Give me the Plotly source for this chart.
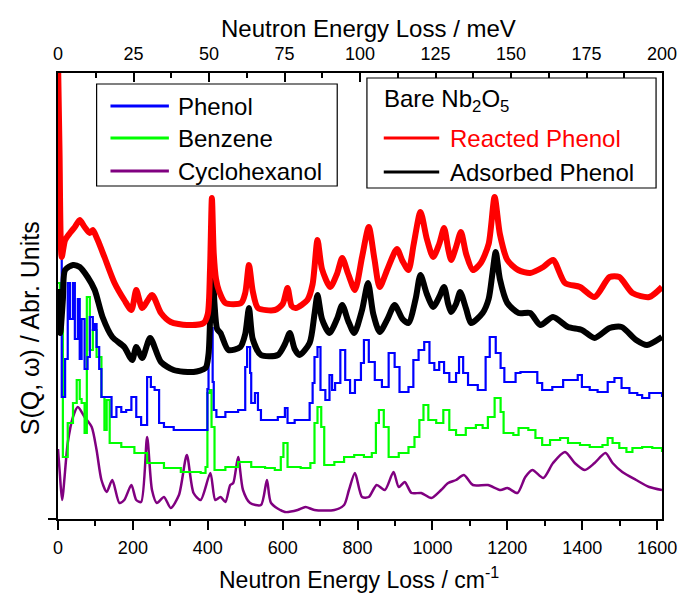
import plotly.graph_objects as go

# ---------------- data (x in cm^-1, y in arbitrary offset units) ----------------
reacted_x = [0, 4, 10, 19, 32, 45, 58, 71, 85, 93, 106, 124, 151, 177, 196, 209, 225, 251, 275, 301,
             344, 389, 400, 406, 411, 416, 422, 430, 447, 489, 500, 510, 520, 534, 579, 600, 613, 624, 635, 666,
             680, 693, 705, 727, 745, 759, 775, 793, 812, 830, 845, 859, 880, 905, 920, 936, 950, 968, 985, 1002,
             1018, 1031, 1042, 1050, 1063, 1076, 1090, 1108, 1129, 1150, 1166, 1180, 1200, 1229, 1261, 1296, 1322, 1354, 1394, 1433,
             1473, 1499, 1534, 1579, 1613]
reacted_y = [460, 369, 262, 279, 286, 292, 299, 292, 286, 289, 279, 262, 236, 219, 209, 229, 211, 224, 206, 197,
             194, 196, 205, 250, 321, 265, 240, 228, 216, 216, 226, 254, 228, 211, 209, 215, 231, 213, 211, 219,
             235, 279, 250, 232, 245, 261, 245, 229, 262, 292, 260, 232, 250, 270, 258, 249, 275, 307, 280, 262,
             275, 291, 270, 259, 272, 287, 265, 249, 256, 275, 322, 285, 259, 249, 246, 252, 259, 236, 232, 222,
             242, 242, 226, 222, 232]

adsorbed_x = [0, 6, 13, 19, 40, 58, 79, 98, 119, 145, 177, 198, 209, 225, 246, 275, 309, 362, 394, 402,
              407, 412, 418, 425, 434, 455, 487, 500, 510, 520, 542, 587, 606, 619, 632, 645, 672, 685, 693, 705,
              725, 745, 759, 775, 791, 812, 828, 842, 859, 880, 899, 920, 936, 955, 968, 985, 1002, 1018, 1031, 1042,
              1050, 1063, 1074, 1090, 1103, 1134, 1150, 1160, 1169, 1180, 1200, 1230, 1261, 1288, 1322, 1362, 1399, 1433, 1473, 1505,
              1544, 1573, 1613]
adsorbed_y = [230, 186, 219, 249, 254, 252, 242, 229, 202, 182, 172, 159, 172, 161, 181, 157, 149, 147, 151, 165,
              210, 259, 215, 190, 186, 169, 172, 185, 211, 180, 164, 164, 175, 186, 170, 164, 176, 205, 224, 200,
              186, 200, 214, 198, 186, 209, 236, 205, 187, 200, 214, 200, 196, 220, 244, 225, 212, 222, 232, 215,
              207, 215, 227, 210, 196, 206, 220, 245, 267, 240, 216, 206, 206, 194, 202, 192, 189, 181, 191, 192,
              179, 174, 182]

phenol_x = [0, 5, 10, 19, 26, 32, 40, 45, 53, 58, 63, 71, 79, 85, 93, 98, 103, 110, 116, 130,
            143, 156, 169, 182, 196, 209, 222, 238, 248, 258, 270, 283, 309, 389, 399, 402, 413, 416, 423, 447,
            481, 500, 505, 513, 516, 526, 534, 542, 587, 606, 613, 632, 658, 672, 680, 685, 693, 701, 714, 725,
            732, 740, 754, 767, 780, 793, 809, 817, 830, 846, 865, 883, 899, 912, 936, 949, 963, 978, 992, 1005,
            1018, 1031, 1045, 1063, 1071, 1082, 1095, 1121, 1142, 1153, 1169, 1182, 1192, 1222, 1235, 1261, 1280, 1293, 1320, 1349,
            1388, 1399, 1420, 1441, 1468, 1486, 1505, 1526, 1547, 1560, 1579, 1600, 1613]
phenol_y = [460, 300, 122, 160, 236, 200, 236, 180, 220, 160, 200, 150, 162, 202, 189, 195, 172, 150, 122, 122,
            102, 112, 107, 109, 122, 102, 94, 142, 132, 129, 96, 92, 89, 89, 130, 191, 137, 109, 102, 107,
            109, 152, 172, 146, 116, 126, 109, 99, 102, 111, 96, 99, 99, 116, 136, 162, 172, 129, 119, 144,
            129, 136, 169, 139, 126, 139, 156, 179, 157, 139, 132, 166, 152, 127, 132, 159, 169, 177, 156, 149,
            157, 146, 137, 146, 162, 146, 134, 129, 162, 182, 166, 151, 137, 146, 147, 147, 136, 129, 132, 139,
            144, 132, 129, 127, 137, 141, 131, 126, 124, 121, 126, 126, 122]

benzene_x = [0, 5, 13, 26, 40, 50, 58, 63, 71, 77, 85, 93, 103, 116, 124, 130, 138, 169, 204, 238,
             283, 328, 381, 394, 399, 405, 410, 418, 447, 481, 516, 553, 579, 595, 602, 613, 648, 674, 685, 693,
             703, 711, 738, 764, 791, 817, 838, 849, 857, 870, 883, 910, 936, 952, 965, 976, 989, 1010, 1029, 1045,
             1063, 1089, 1116, 1134, 1148, 1166, 1182, 1190, 1216, 1230, 1256, 1275, 1293, 1314, 1341, 1362, 1394, 1420, 1454, 1468,
             1481, 1499, 1518, 1534, 1560, 1587, 1613]
benzene_y = [236, 200, 62, 96, 116, 139, 120, 116, 86, 222, 169, 189, 162, 122, 89, 119, 76, 72, 66, 56,
             51, 47, 46, 52, 126, 129, 92, 49, 52, 57, 52, 51, 49, 62, 76, 52, 51, 56, 96, 112,
             92, 54, 57, 62, 64, 62, 66, 96, 109, 92, 62, 66, 72, 82, 99, 114, 99, 96, 109, 89,
             84, 91, 94, 91, 102, 121, 107, 86, 84, 91, 89, 81, 74, 79, 81, 76, 74, 72, 74, 81,
             76, 71, 67, 71, 72, 71, 67]

cyclohexanol_x = [0, 5, 11, 26, 40, 53, 71, 90, 103, 116, 130, 145, 164, 177, 196, 209, 222, 238, 251, 264,
                  283, 301, 323, 344, 362, 381, 407, 420, 434, 447, 460, 468, 481, 494, 513, 542, 558, 569, 606, 640,
                  661, 685, 738, 764, 777, 793, 812, 830, 851, 873, 896, 910, 926, 944, 970, 997, 1023, 1042, 1063, 1084,
                  1108, 1148, 1182, 1200, 1227, 1248, 1267, 1296, 1322, 1354, 1380, 1407, 1433, 1462, 1481, 1507, 1544, 1579, 1613]
cyclohexanol_y = [70, 45, 19, 76, 102, 112, 102, 92, 69, 39, 27, 39, 16, 19, 34, 19, 17, 82, 29, 16,
                  22, 11, 24, 64, 26, 19, 46, 19, 22, 17, 34, 36, 62, 29, 16, 14, 39, 16, 7, 9,
                  12, 9, 9, 14, 29, 46, 22, 22, 34, 29, 47, 32, 37, 26, 26, 21, 29, 36, 39, 44,
                  34, 34, 29, 31, 26, 42, 49, 41, 56, 67, 56, 49, 56, 66, 56, 47, 39, 32, 29]

cm_ticks = [0, 200, 400, 600, 800, 1000, 1200, 1400, 1600]
cm_minor = [100, 300, 500, 700, 900, 1100, 1300, 1500]
mev_ticks = [0, 25, 50, 75, 100, 125, 150, 175, 200]
mev_minor = [12.5, 37.5, 62.5, 87.5, 112.5, 137.5, 162.5, 187.5]

# ---------------- figure ----------------
W, H = 689, 597
ML, MR, MT, MB = 58, 21, 73, 78
PW, PH = W - ML - MR, H - MT - MB
FONT = "Liberation Sans, Arial, sans-serif"


def fx(p):
    return (p - ML) / PW


def fy(p):
    return (H - MB - p) / PH


fig = go.Figure()

series = [
    ("Cyclohexanol", cyclohexanol_x, cyclohexanol_y, "#800080", 2.5, "spline"),
    ("Benzene", benzene_x, benzene_y, "#00FF00", 2.2, "hv"),
    ("Phenol", phenol_x, phenol_y, "#0000FF", 2.2, "hv"),
    ("Adsorbed Phenol", adsorbed_x, adsorbed_y, "#000000", 6, "spline"),
    ("Reacted Phenol", reacted_x, reacted_y, "#FF0000", 6, "spline"),
]
for name, xs, ys, col, w, shp in series:
    line = dict(color=col, width=w, shape=shp)
    if shp == "spline":
        line["smoothing"] = 0.7
    fig.add_trace(go.Scatter(x=xs, y=ys, mode="lines", name=name, line=line,
                             showlegend=False, hoverinfo="skip"))

# carrier for the top (meV) axis
fig.add_trace(go.Scatter(x=[mev_ticks[0], mev_ticks[-1]], y=[None, None], xaxis="x2",
                         mode="lines", showlegend=False, hoverinfo="skip"))

axis_common = dict(showgrid=False, zeroline=False, showline=True, linecolor="black",
                   linewidth=1.5, tickcolor="black", tickwidth=1.5,
                   tickfont=dict(family=FONT, size=18, color="black"))

fig.update_layout(
    width=W, height=H,
    margin=dict(l=ML, r=MR, t=MT, b=MB, pad=0),
    paper_bgcolor="white", plot_bgcolor="white",
    xaxis=dict(range=[0, 1613], tickvals=cm_ticks, ticks="outside", ticklen=9,
               ticklabelstandoff=3,
               minor=dict(tickvals=cm_minor, ticks="outside", ticklen=5,
                          tickcolor="black", tickwidth=1.5),
               **axis_common),
    xaxis2=dict(range=[0, 200], overlaying="x", side="top", anchor="y",
                tickvals=mev_ticks, ticks="inside", ticklen=9, ticklabelstandoff=4,
                minor=dict(tickvals=mev_minor, ticks="inside", ticklen=5,
                           tickcolor="black", tickwidth=1.5),
                **axis_common),
    yaxis=dict(range=[0, PH], tickvals=[0], ticks="outside", ticklen=8,
               showticklabels=False, mirror=True, **axis_common),
)

ann = []
shapes = []
# axis titles
ann.append(dict(text="Neutron Energy Loss / cm<sup>-1</sup>", x=fx(362), y=fy(578),
                xref="paper", yref="paper", xanchor="center", yanchor="middle", showarrow=False,
                font=dict(family=FONT, size=23, color="black")))
ann.append(dict(text="Neutron Energy Loss / meV", x=fx(372), y=fy(28),
                xref="paper", yref="paper", xanchor="center", yanchor="middle", showarrow=False,
                font=dict(family=FONT, size=24, color="black")))
ann.append(dict(text="S(Q, \u03c9) / Abr. Units", x=fx(30), y=fy(328), textangle=-90,
                xref="paper", yref="paper", xanchor="center", yanchor="middle", showarrow=False,
                font=dict(family=FONT, size=25, color="black")))

# left legend box
shapes.append(dict(type="rect", xref="paper", yref="paper", x0=fx(97), x1=fx(340),
                   y0=fy(186), y1=fy(84), line=dict(color="black", width=1.2),
                   fillcolor="white", layer="above"))
for name, col, yy in [("Phenol", "#0000FF", 106), ("Benzene", "#00FF00", 138),
                      ("Cyclohexanol", "#800080", 171)]:
    shapes.append(dict(type="line", xref="paper", yref="paper", x0=fx(111), x1=fx(170),
                       y0=fy(yy), y1=fy(yy), line=dict(color=col, width=3), layer="above"))
    ann.append(dict(text=name, x=fx(177), y=fy(yy), xref="paper", yref="paper",
                    xanchor="left", yanchor="middle", showarrow=False,
                    font=dict(family=FONT, size=24, color="black")))

# right legend box
shapes.append(dict(type="rect", xref="paper", yref="paper", x0=fx(370), x1=fx(662),
                   y0=fy(188), y1=fy(78), line=dict(color="black", width=1.2),
                   fillcolor="white", layer="above"))
ann.append(dict(text="Bare Nb<sub>2</sub>O<sub>5</sub>", x=fx(385), y=fy(101),
                xref="paper", yref="paper", xanchor="left", yanchor="middle", showarrow=False,
                font=dict(family=FONT, size=24, color="black")))
for name, col, yy in [("Reacted Phenol", "#FF0000", 138), ("Adsorbed Phenol", "#000000", 172)]:
    shapes.append(dict(type="line", xref="paper", yref="paper", x0=fx(387), x1=fx(443),
                       y0=fy(yy), y1=fy(yy), line=dict(color=col, width=3), layer="above"))
    ann.append(dict(text=name, x=fx(452), y=fy(yy), xref="paper", yref="paper",
                    xanchor="left", yanchor="middle", showarrow=False,
                    font=dict(family=FONT, size=24, color=col)))

fig.update_layout(annotations=ann, shapes=shapes)
fig.write_html("out.html")
